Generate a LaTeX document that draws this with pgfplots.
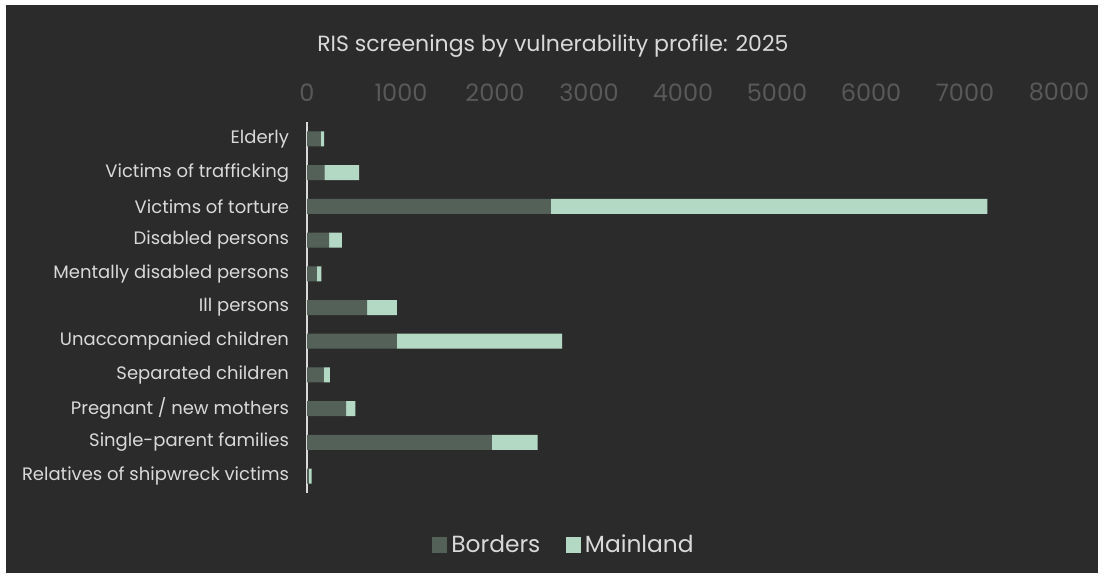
\documentclass[border=0pt]{standalone}
\usepackage{pgfplots}
\pgfplotsset{compat=1.18}
\usepackage{fontspec}
\setmainfont{Poppins}
\definecolor{bg}{HTML}{2B2B2B}
\definecolor{border}{HTML}{546158}
\definecolor{mainland}{HTML}{B3D9C4}
\definecolor{ticklab}{HTML}{595959}
\definecolor{lab}{HTML}{D9D9D9}
\begin{document}
\begin{tikzpicture}
\fill[white] (0pt,0pt) rectangle (828.75pt,433.5pt);
\fill[bg] (4.5pt,3.75pt) rectangle (823.5pt,429.75pt);
\begin{axis}[
  at={(230.25pt,63.75pt)}, anchor=south west,
  scale only axis, width=564pt, height=278.25pt,
  xbar stacked, bar width=11.25pt,
  xmin=0, xmax=8000, xtick distance=1000,
  ymin=-0.5, ymax=10.5, y dir=reverse,
  ytick={0,...,10},
  yticklabels={Elderly,Victims of trafficking,Victims of torture,Disabled persons,Mentally disabled persons,Ill persons,Unaccompanied children,Separated children,Pregnant / new mothers,Single-parent families,Relatives of shipwreck victims},
  axis x line*=top, axis y line*=left,
  x axis line style={draw=none},
  y axis line style={draw=lab, line width=1pt, -},
  major tick length=0pt,
  /pgf/number format/assume math mode=true,
  /pgf/number format/1000 sep={},
  xticklabel style={font=\fontsize{18}{20}\selectfont, text=ticklab, yshift=12pt},
  yticklabel style={font=\fontsize{13.5}{15}\selectfont, text=lab, xshift=-10pt},
  title={RIS screenings by vulnerability profile: 2025},
  title style={at={(0.327,1.183)}, anchor=center, font=\fontsize{16.5}{18}\selectfont, text=lab},
  legend style={at={(0.343,-0.14)}, anchor=center, draw=none, fill=none, text=lab, font=\fontsize{17.5}{19}\selectfont, legend columns=2, /tikz/every even column/.append style={column sep=16pt}, nodes={inner xsep=3pt}},
  legend image code/.code={\fill[#1] (0cm,-0.2cm) rectangle (0.4cm,0.2cm);},
]
\addplot[fill=border, draw=none] coordinates {
(146,0) (186,1) (2591,2) (235,3) (105,4) (640,5) (955,6) (178,7) (417,8) (1968,9) (20,10)};
\addplot[fill=mainland, draw=none] coordinates {
(36,0) (369,1) (4647,2) (137,3) (49,4) (315,5) (1758,6) (65,7) (97,8) (485,9) (28,10)};
\legend{Borders, Mainland}
\end{axis}
\end{tikzpicture}
\end{document}
